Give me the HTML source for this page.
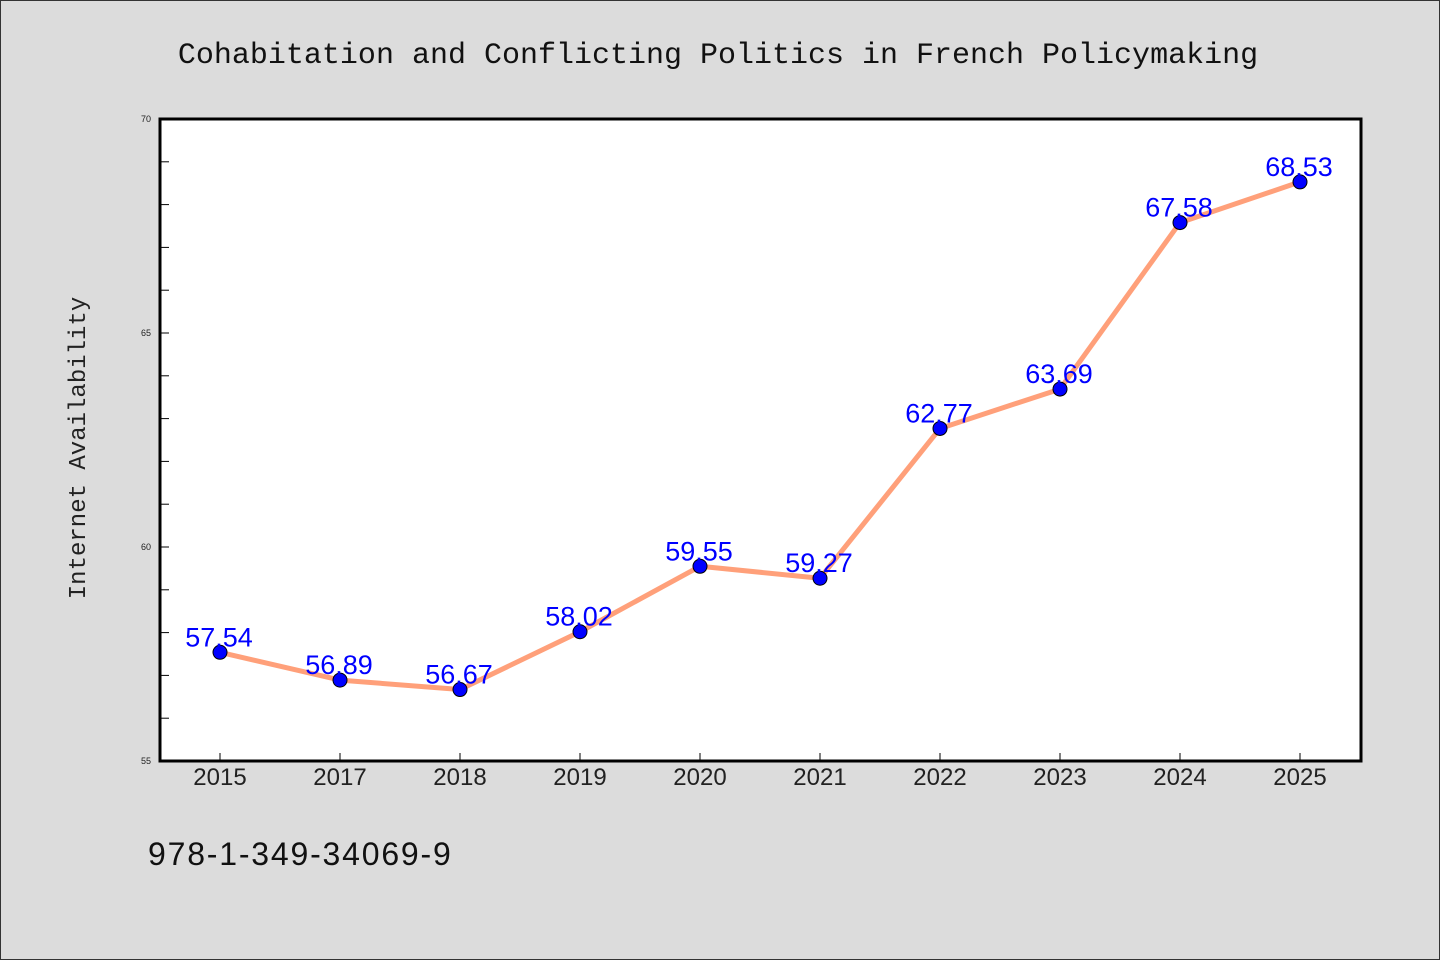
<!DOCTYPE html>
<html><head><meta charset="utf-8"><style>
html,body{margin:0;padding:0;background:#dcdcdc;}
svg{display:block;}
</style></head><body>
<svg id="chart" width="1440" height="960" xmlns="http://www.w3.org/2000/svg">
<rect x="0.5" y="0.5" width="1439" height="959" fill="#dcdcdc" stroke="#333"/>
<text x="718" y="63" text-anchor="middle" font-family="'Liberation Mono','DejaVu Sans Mono',monospace" font-size="30" fill="#111">Cohabitation and Conflicting Politics in French Policymaking</text>
<rect x="160" y="119" width="1201" height="642" fill="#fff"/>
<g id="yticks"></g><g id="xticks"></g>
<polyline id="line" fill="none" stroke="#ffa07a" stroke-width="5" stroke-linejoin="round"/>
<g id="points"></g><g id="labels"></g>
<rect x="160" y="119" width="1201" height="642" fill="none" stroke="#000" stroke-width="3"/>
<text transform="translate(85,448) rotate(-90)" text-anchor="middle" font-family="'Liberation Mono','DejaVu Sans Mono',monospace" font-size="24" fill="#222">Internet Availability</text>
<text x="148" y="865" font-family="'Liberation Sans',sans-serif" font-size="32" letter-spacing="1.8" fill="#111">978-1-349-34069-9</text>
</svg>
<script>
const categories=["2015","2017","2018","2019","2020","2021","2022","2023","2024","2025"];
const values=[57.54,56.89,56.67,58.02,59.55,59.27,62.77,63.69,67.58,68.53];
const yTickLabels=[55,60,65,70];
const NS="http://www.w3.org/2000/svg";
const x0=220,dx=120,yMin=55,yMax=70,plotTop=119,plotBot=761;
const xs=i=>x0+i*dx;
const ys=v=>plotBot-(v-yMin)/(yMax-yMin)*(plotBot-plotTop);
function mk(t,a){const e=document.createElementNS(NS,t);for(const k in a)e.setAttribute(k,a[k]);return e;}
const yt=document.getElementById('yticks');
for(let v=yMin;v<=yMax;v++){
 const l=mk('line',{x1:160,x2:169,y1:ys(v),y2:ys(v),stroke:'#000','stroke-width':1});
 
 
 yt.appendChild(l);
}
yTickLabels.forEach(v=>{
 const t=mk('text',{x:151,y:ys(v)+3,'text-anchor':'end','font-family':"'Liberation Sans',sans-serif",'font-size':9,fill:'#222'});
 t.textContent=v;
 
 
 yt.appendChild(t);
});
const xt=document.getElementById('xticks');
categories.forEach((c,i)=>{
 const l=mk('line',{x1:xs(i),x2:xs(i),y1:plotBot,y2:plotBot-8,stroke:'#000','stroke-width':1});
 
 
 xt.appendChild(l);
 const t=mk('text',{x:xs(i),y:785,'text-anchor':'middle','font-family':"'Liberation Sans',sans-serif",'font-size':24,fill:'#222'});
 t.textContent=c;
 
 
 xt.appendChild(t);
});
document.getElementById('line').setAttribute('points',values.map((v,i)=>xs(i)+','+ys(v)).join(' '));
const pg=document.getElementById('points'),lg=document.getElementById('labels');
values.forEach((v,i)=>{
 const c=mk('circle',{cx:xs(i),cy:ys(v),r:7,fill:'#0000ff',stroke:'#000','stroke-width':1});
 
 
 pg.appendChild(c);
 const t=mk('text',{x:xs(i)-1,y:ys(v)-6,'text-anchor':'middle','font-family':"'Liberation Sans',sans-serif",'font-size':27,fill:'#0000ff'});
 t.textContent=v.toFixed(2);
 
 
 lg.appendChild(t);
});
</script>
</body></html>
